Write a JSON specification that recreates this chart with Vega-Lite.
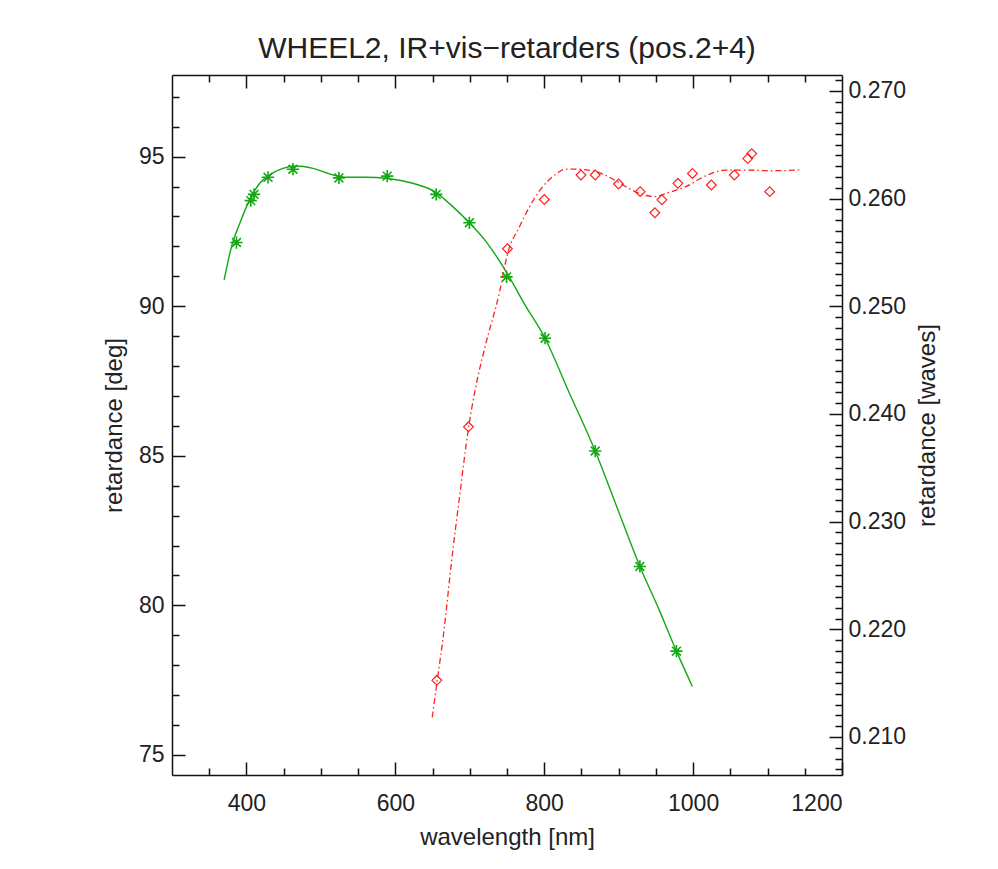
{
  "$schema": "https://vega.github.io/schema/vega-lite/v6.json",
  "width": 670,
  "height": 700,
  "autosize": {"type": "none"},
  "padding": {"left": 172, "top": 75, "right": 156, "bottom": 94},
  "background": "white",
  "title": {"text": "WHEEL2, IR+vis−retarders (pos.2+4)", "anchor": "middle", "fontSize": 30, "font": "Liberation Sans", "fontWeight": "normal", "color": "#222", "offset": 10},
  "config": {
    "view": {"stroke": null},
    "axis": {"labelFont": "Liberation Sans", "titleFont": "Liberation Sans", "labelFontSize": 23, "titleFontSize": 24, "titleFontWeight": "normal", "labelColor": "#222", "titleColor": "#222", "domainColor": "#111", "tickColor": "#111", "grid": false, "domainWidth": 1.5, "tickWidth": 1.5}
  },
  "datasets": {
    "greenCurve": [
      {"wl": 370, "deg": 90.88}, {"wl": 379.9, "deg": 91.99}, {"wl": 391, "deg": 92.77}, {"wl": 402.1, "deg": 93.44},
      {"wl": 417.8, "deg": 94.11}, {"wl": 431.2, "deg": 94.39}, {"wl": 449.1, "deg": 94.61}, {"wl": 467.1, "deg": 94.69},
      {"wl": 489.3, "deg": 94.61}, {"wl": 516.2, "deg": 94.39}, {"wl": 534.1, "deg": 94.31}, {"wl": 560.9, "deg": 94.31},
      {"wl": 587.8, "deg": 94.28}, {"wl": 623.5, "deg": 94.11}, {"wl": 654.9, "deg": 93.8}, {"wl": 677.1, "deg": 93.33},
      {"wl": 699.5, "deg": 92.79}, {"wl": 721.9, "deg": 92.16}, {"wl": 748.8, "deg": 91.16}, {"wl": 773.3, "deg": 90.08},
      {"wl": 801.1, "deg": 88.93}, {"wl": 833.7, "deg": 87.1}, {"wl": 868.5, "deg": 85.16}, {"wl": 898, "deg": 83.26},
      {"wl": 928.5, "deg": 81.3}, {"wl": 954.4, "deg": 79.85}, {"wl": 977.6, "deg": 78.47}, {"wl": 999, "deg": 77.29}
    ],
    "greenPoints": [
      {"wl": 386.6, "deg": 92.13}, {"wl": 405.8, "deg": 93.53}, {"wl": 410.2, "deg": 93.74}, {"wl": 429, "deg": 94.31},
      {"wl": 462.5, "deg": 94.58}, {"wl": 524.2, "deg": 94.29}, {"wl": 589.1, "deg": 94.35}, {"wl": 654.9, "deg": 93.74},
      {"wl": 699.5, "deg": 92.79}, {"wl": 749.4, "deg": 90.98}, {"wl": 801.1, "deg": 88.93}, {"wl": 868.5, "deg": 85.16},
      {"wl": 928.5, "deg": 81.3}, {"wl": 977.6, "deg": 78.47}
    ],
    "redCurve": [
      {"wl": 649.5, "waves": 0.21182}, {"wl": 655.3, "waves": 0.21474}, {"wl": 666, "waves": 0.22026}, {"wl": 675.4, "waves": 0.22624},
      {"wl": 686.1, "waves": 0.23222}, {"wl": 698.2, "waves": 0.23866}, {"wl": 708.9, "waves": 0.2428}, {"wl": 719.7, "waves": 0.24602},
      {"wl": 739.8, "waves": 0.25126}, {"wl": 751, "waves": 0.25494}, {"wl": 766.6, "waves": 0.25736}, {"wl": 780, "waves": 0.2592},
      {"wl": 795.7, "waves": 0.26089}, {"wl": 815.8, "waves": 0.26227}, {"wl": 829.2, "waves": 0.26273}, {"wl": 840.4, "waves": 0.26273},
      {"wl": 864.5, "waves": 0.26258}, {"wl": 891.4, "waves": 0.26184}, {"wl": 914.2, "waves": 0.26092}, {"wl": 936.6, "waves": 0.26028},
      {"wl": 947.7, "waves": 0.26018}, {"wl": 967.9, "waves": 0.26058}, {"wl": 990.2, "waves": 0.2611}, {"wl": 1017.1, "waves": 0.26211},
      {"wl": 1043.9, "waves": 0.26264}, {"wl": 1070.7, "waves": 0.26264}, {"wl": 1106, "waves": 0.26258}, {"wl": 1146.2, "waves": 0.26267}
    ],
    "redPoints": [
      {"wl": 655.7, "waves": 0.21526}, {"wl": 698.2, "waves": 0.2388}, {"wl": 750.6, "waves": 0.25534}, {"wl": 800.1, "waves": 0.25991},
      {"wl": 849.4, "waves": 0.26218}, {"wl": 868.5, "waves": 0.26218}, {"wl": 899.8, "waves": 0.26135}, {"wl": 928.9, "waves": 0.26064},
      {"wl": 948.6, "waves": 0.25868}, {"wl": 958, "waves": 0.25988}, {"wl": 979.5, "waves": 0.26141}, {"wl": 999.1, "waves": 0.26233},
      {"wl": 1024.5, "waves": 0.26126}, {"wl": 1055.4, "waves": 0.26218}, {"wl": 1073.4, "waves": 0.26371}, {"wl": 1078.7, "waves": 0.26417},
      {"wl": 1102.9, "waves": 0.26064}
    ]
  },
  "layer": [
    {
      "data": {"name": "greenCurve"},
      "mark": {"type": "line", "color": "#14a814", "strokeWidth": 1.4, "interpolate": "monotone"},
      "encoding": {
        "x": {"field": "wl", "type": "quantitative", "scale": {"domain": [300, 1200], "nice": false, "zero": false},
              "axis": {"orient": "bottom", "values": [400, 600, 800, 1000, 1200], "format": "d", "tickSize": -13, "labelPadding": 30, "title": "wavelength [nm]", "titlePadding": 10}},
        "y": {"field": "deg", "type": "quantitative", "scale": {"domain": [74.33, 97.73], "nice": false, "zero": false},
              "axis": {"orient": "left", "values": [75, 80, 85, 90, 95], "tickSize": -13, "labelPadding": 21, "title": "retardance [deg]", "titlePadding": 12}}
      }
    },
    {
      "data": {"name": "greenPoints"},
      "mark": {"type": "point", "shape": "M-1,0L1,0M0,-1L0,1M-0.72,-0.72L0.72,0.72M-0.72,0.72L0.72,-0.72", "filled": false, "color": "#14a814", "strokeWidth": 1.6, "size": 150, "opacity": 1},
      "encoding": {
        "x": {"field": "wl", "type": "quantitative", "scale": {"domain": [300, 1200], "nice": false, "zero": false},
              "axis": {"orient": "bottom", "values": [350, 450, 500, 550, 650, 700, 750, 850, 900, 950, 1050, 1100, 1150], "tickSize": -7, "labels": false, "domain": false, "title": null}},
        "y": {"field": "deg", "type": "quantitative", "scale": {"domain": [74.33, 97.73], "nice": false, "zero": false},
              "axis": {"orient": "left", "values": [76, 77, 78, 79, 81, 82, 83, 84, 86, 87, 88, 89, 91, 92, 93, 94, 96, 97], "tickSize": -7, "labels": false, "domain": false, "title": null}}
      }
    },
    {
      "data": {"name": "redCurve"},
      "mark": {"type": "line", "color": "#ff2020", "strokeWidth": 1.3, "strokeDash": [6, 3, 1.5, 3], "interpolate": "monotone"},
      "encoding": {
        "x": {"field": "wl", "type": "quantitative", "scale": {"domain": [300, 1200], "nice": false, "zero": false},
              "axis": {"orient": "top", "values": [400, 600, 800, 1000], "tickSize": -13, "labels": false, "title": null}},
        "y": {"field": "waves", "type": "quantitative", "scale": {"domain": [0.20647, 0.27147], "nice": false, "zero": false},
              "axis": {"orient": "right", "values": [0.21, 0.22, 0.23, 0.24, 0.25, 0.26, 0.27], "format": ".3f", "tickSize": -13, "labelPadding": 19, "title": "retardance [waves]", "titleAngle": 270, "titleBaseline": "top", "titlePadding": 10}}
      }
    },
    {
      "data": {"name": "redPoints"},
      "mark": {"type": "point", "shape": "diamond", "filled": false, "color": "#ff2020", "strokeWidth": 1.2, "size": 95, "opacity": 1},
      "encoding": {
        "x": {"field": "wl", "type": "quantitative", "scale": {"domain": [300, 1200], "nice": false, "zero": false},
              "axis": {"orient": "top", "values": [350, 450, 500, 550, 650, 700, 750, 850, 900, 950, 1050, 1100, 1150], "tickSize": -7, "labels": false, "domain": false, "title": null}},
        "y": {"field": "waves", "type": "quantitative", "scale": {"domain": [0.20647, 0.27147], "nice": false, "zero": false},
              "axis": {"orient": "right", "values": [0.207, 0.208, 0.209, 0.211, 0.212, 0.213, 0.214, 0.215, 0.216, 0.217, 0.218, 0.219, 0.221, 0.222, 0.223, 0.224, 0.225, 0.226, 0.227, 0.228, 0.229, 0.231, 0.232, 0.233, 0.234, 0.235, 0.236, 0.237, 0.238, 0.239, 0.241, 0.242, 0.243, 0.244, 0.245, 0.246, 0.247, 0.248, 0.249, 0.251, 0.252, 0.253, 0.254, 0.255, 0.256, 0.257, 0.258, 0.259, 0.261, 0.262, 0.263, 0.264, 0.265, 0.266, 0.267, 0.268, 0.269, 0.271], "tickSize": -7, "labels": false, "domain": false, "title": null}}
      }
    }
  ],
  "resolve": {"scale": {"y": "independent"}, "axis": {"x": "independent", "y": "independent"}}
}
